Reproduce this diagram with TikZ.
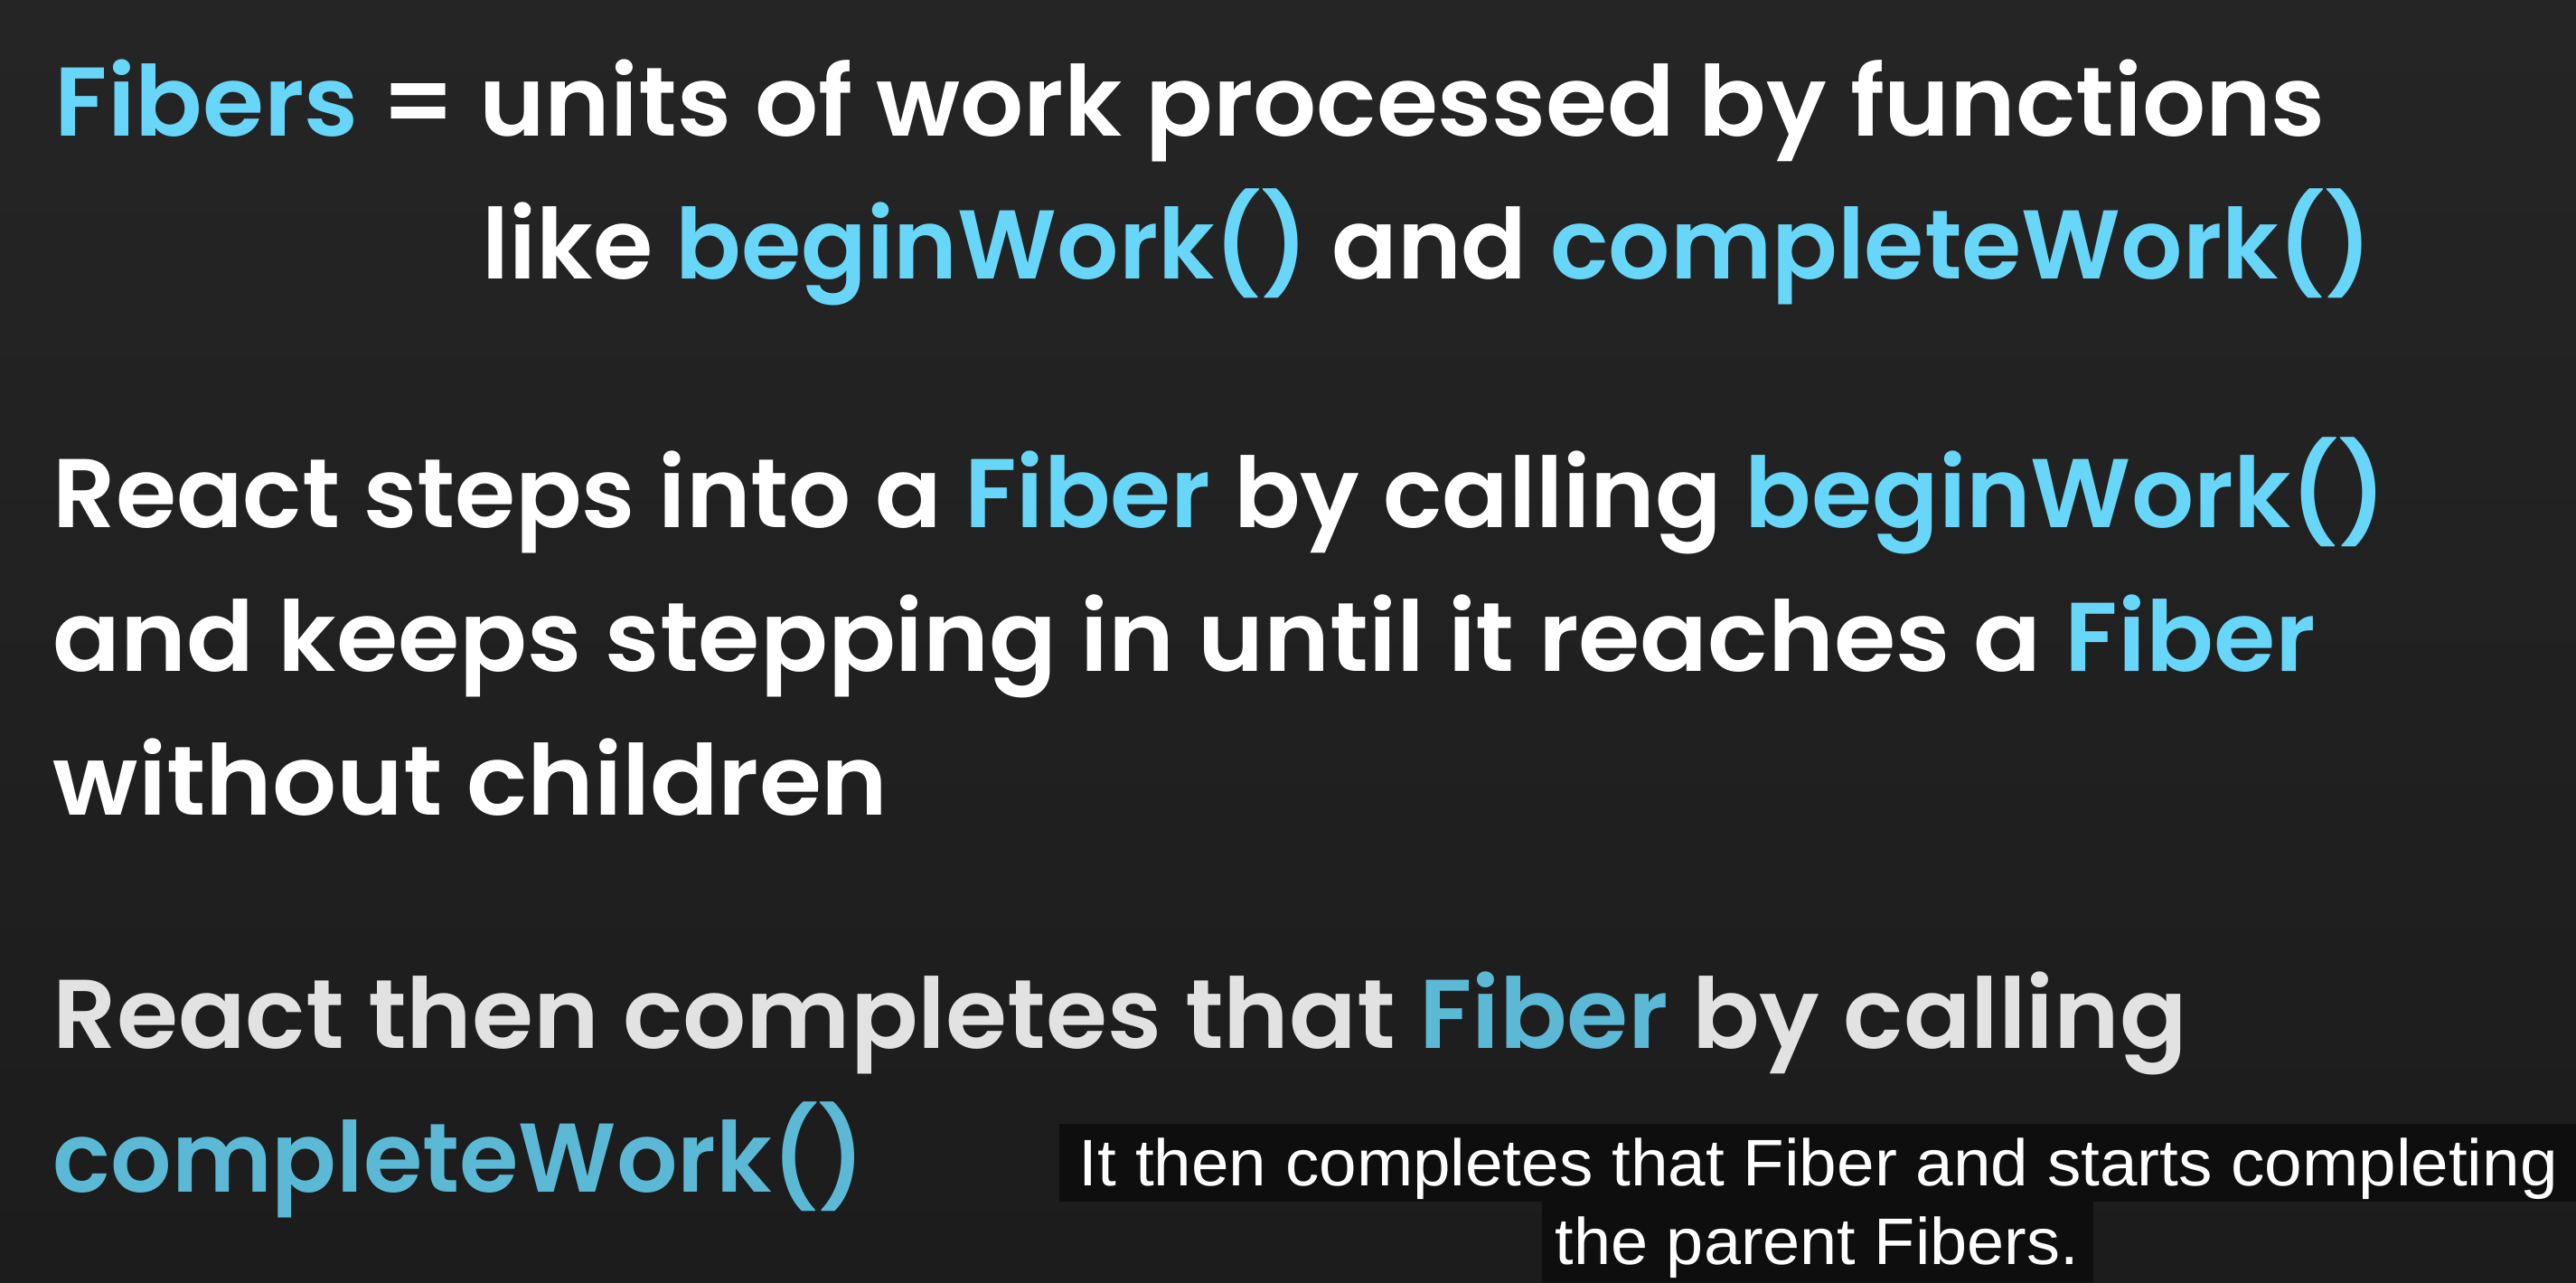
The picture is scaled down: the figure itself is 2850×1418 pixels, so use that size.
\documentclass[tikz,border=0pt]{standalone}
\usepackage{fontspec}
\usepackage{graphicx}
\newfontfamily\slidefont{Poppins}[UprightFont=* SemiBold]
\newfontfamily\subfont{Liberation Sans}
\definecolor{bgtop}{HTML}{252525}
\definecolor{bgbot}{HTML}{1C1C1C}
\definecolor{reactblue}{HTML}{68D6F8}
\definecolor{dimblue}{HTML}{5BB9D6}
\definecolor{dimwhite}{HTML}{E2E2E2}
\definecolor{capbox}{HTML}{0E0E0E}
\newcommand{\cy}[1]{\textcolor{reactblue}{#1}}
\newcommand{\cyd}[1]{\textcolor{dimblue}{#1}}
\tikzset{
  slideline/.style={anchor=base west, inner sep=0pt, text=white,
    font=\slidefont\fontsize{27}{32}\selectfont},
  dimline/.style={slideline, text=dimwhite},
  subline/.style={anchor=base west, inner sep=0pt, text=white,
    font=\subfont\fontsize{18.2}{22}\selectfont},
  capfill/.style={fill=capbox, draw=none}
}
\begin{document}
\begin{tikzpicture}[x=0.25pt,y=-0.25pt]
\useasboundingbox (0,0) rectangle (2850,1418);
\shade[top color=bgtop, bottom color=bgbot] (0,0) rectangle (2850,1418);

\node[slideline] (l1) at (60,150) {\resizebox{628pt}{\height}{\cy{Fibers} = units of work processed by functions}};
\node[slideline] (l2) at (533,308) {\resizebox{522.75pt}{\height}{like \cy{beginWork()} and \cy{completeWork()}}};

\node[slideline] (l3) at (58,583) {\resizebox{645.25pt}{\height}{React steps into a \cy{Fiber} by calling \cy{beginWork()}}};
\node[slideline] (l4) at (58,742) {\resizebox{625.75pt}{\height}{and keeps stepping in until it reaches a \cy{Fiber}}};
\node[slideline] (l5) at (58,901) {\resizebox{231pt}{\height}{without children}};

\node[dimline] (l6) at (58,1159) {\resizebox{590.25pt}{\height}{React then completes that \cyd{Fiber} by calling}};
\node[dimline] (l7) at (58,1318) {\resizebox{224.5pt}{\height}{\cyd{completeWork()}}};

\fill[capfill] (1172,1243) rectangle (2850,1329);
\fill[capfill] (1706,1329) rectangle (2316,1418);
\node[subline] (s1) at (1193,1311) {\resizebox{409pt}{\height}{It then completes that Fiber and starts completing}};
\node[subline] (s2) at (1720,1398) {\resizebox{144.75pt}{\height}{the parent Fibers.}};
\end{tikzpicture}
\end{document}
